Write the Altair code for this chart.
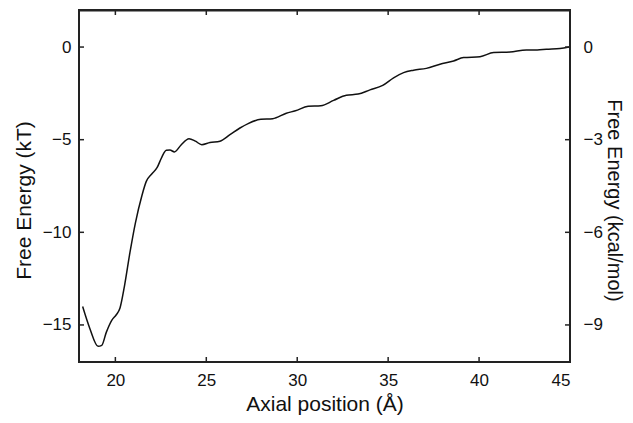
import altair as alt
import pandas as pd

# Free energy profile (kT) along the axial position (Å)
axial_pos = [18.2, 18.6, 19.05, 19.25, 19.5, 19.8, 20.05, 20.25, 20.5, 20.8, 21.1, 21.45,
             21.7, 22.0, 22.3, 22.55, 22.8, 23.0, 23.25, 23.6, 24.05, 24.4, 24.75, 25.2,
             25.75, 26.3, 26.85, 27.3, 28.0, 28.65, 29.4, 29.9, 30.6, 31.3, 32.0, 32.7,
             33.35, 34.0, 34.7, 35.3, 35.85, 36.4, 37.1, 37.85, 38.6, 39.15, 40.05, 40.8,
             41.7, 42.6, 43.2, 43.7, 44.45, 44.95]
free_energy_kT = [-14.0, -15.2, -16.15, -16.1, -15.4, -14.75, -14.45, -14.1, -12.9, -11.1,
                  -9.5, -8.05, -7.25, -6.85, -6.5, -5.95, -5.57, -5.56, -5.66, -5.3, -4.95,
                  -5.08, -5.27, -5.15, -5.08, -4.73, -4.37, -4.13, -3.9, -3.87, -3.57, -3.44,
                  -3.2, -3.17, -2.88, -2.6, -2.54, -2.31, -2.07, -1.66, -1.38, -1.25, -1.15,
                  -0.93, -0.75, -0.57, -0.52, -0.3, -0.27, -0.16, -0.16, -0.12, -0.08, 0.0]

x_ticks = [20, 25, 30, 35, 40, 45]
kT_ticks = [0, -5, -10, -15]
kcal_ticks = [0, -3, -6, -9]
edge_dummy = [0]

W, H = 491, 352
FONT = "Liberation Sans"
TXT = "#111111"
LINE = "#222222"
TICK_LEN = 5

df = pd.DataFrame({"x": axial_pos, "y": free_energy_kT})
xt = pd.DataFrame({"x": x_ticks[:-1]})
yt = pd.DataFrame({"y": kT_ticks})
kt = pd.DataFrame({"k": kcal_ticks})
ed = pd.DataFrame({"d": edge_dummy})

xscale = alt.Scale(domain=[18, 45], nice=False, zero=False)
yscale = alt.Scale(domain=[-17, 2], nice=False, zero=False)
kscale = alt.Scale(domain=[-17 * 0.6, 2 * 0.6], nice=False, zero=False)

xenc = alt.X("x:Q", scale=xscale,
             axis=alt.Axis(values=x_ticks, title="Axial position (Å)", ticks=False,
                           domain=False, grid=False, labelPadding=10, titlePadding=5))
yenc = alt.Y("y:Q", scale=yscale,
             axis=alt.Axis(values=kT_ticks, title="Free Energy (kT)", ticks=False,
                           domain=False, grid=False, labelPadding=8, titlePadding=8,
                           titleY=190))

line = alt.Chart(df).mark_line(color="#111111", strokeWidth=1.5,
                               interpolate="monotone").encode(x=xenc, y=yenc)

left_ticks = alt.Chart(yt).mark_rule(color=LINE, strokeWidth=1.5).encode(
    y=yenc, x=alt.value(0), x2=alt.value(TICK_LEN))
bottom_ticks = alt.Chart(xt).mark_rule(color=LINE, strokeWidth=1.5).encode(
    x=xenc, y=alt.value(H), y2=alt.value(H - TICK_LEN))
top_ticks = alt.Chart(xt).mark_rule(color=LINE, strokeWidth=1.5).encode(
    x=xenc, y=alt.value(0), y2=alt.value(TICK_LEN))
top_edge = alt.Chart(ed).mark_rule(color=LINE, strokeWidth=2).encode(
    x=alt.value(0), x2=alt.value(W), y=alt.value(0.5))

left_group = alt.layer(line, left_ticks, bottom_ticks, top_ticks, top_edge)

right_ticks = alt.Chart(kt).mark_rule(color=LINE, strokeWidth=1.5).encode(
    y=alt.Y("k:Q", scale=kscale,
            axis=alt.Axis(values=kcal_ticks, orient="right", title="Free Energy (kcal/mol)",
                          ticks=False, domain=False, grid=False, labelPadding=13,
                          titlePadding=1, titleAngle=90, titleY=190, titleFontSize=20)),
    x=alt.value(W), x2=alt.value(W - TICK_LEN))

chart = alt.layer(left_group, right_ticks).resolve_scale(y="independent").properties(
    width=W, height=H,
    background="white",
    autosize=alt.AutoSizeParams(type="none"),
    padding={"left": 71, "top": 2, "right": 55, "bottom": 53},
).configure_view(
    stroke=LINE, strokeWidth=2
).configure_axis(
    labelFont=FONT, titleFont=FONT, labelFontSize=17, titleFontSize=21,
    labelColor=TXT, titleColor=TXT, titleFontWeight="normal"
)

chart.save("out.html", embed_options={"renderer": "svg", "actions": False})
